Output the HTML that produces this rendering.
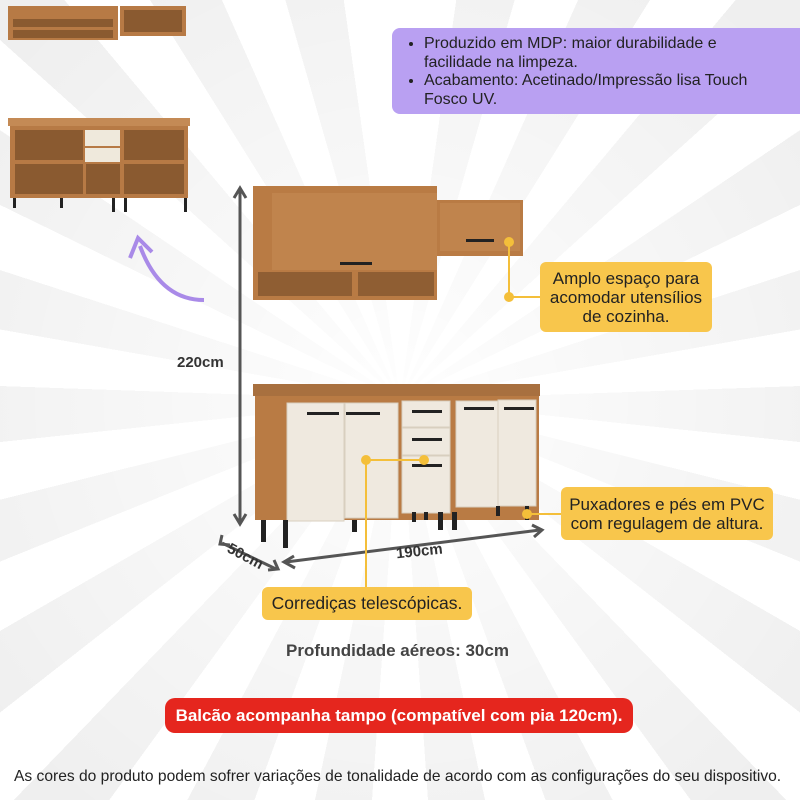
<!DOCTYPE html>
<html><head><meta charset="utf-8"><style>
body{margin:0;width:800px;height:800px;overflow:hidden;font-family:"Liberation Sans",sans-serif;}
.bg{position:absolute;left:0;top:0;width:800px;height:800px;background:repeating-conic-gradient(from 0deg at 400px 400px,#fff 0 8deg,#efefef 8deg 16deg);}
.fade{position:absolute;left:0;top:0;width:800px;height:800px;background:radial-gradient(circle at 400px 400px,rgba(255,255,255,.95) 0,rgba(255,255,255,.4) 300px,rgba(255,255,255,0) 520px);}
.purple{position:absolute;left:392px;top:28px;width:408px;height:86px;background:#b9a0f2;border-radius:8px 0 0 8px;box-sizing:border-box;padding:7px 50px 0 16px;font-size:16px;line-height:18.5px;color:#222;}
.purple ul{margin:0;padding-left:16px}
.y{position:absolute;background:#f8c64c;border-radius:6px;color:#222;font-size:17px;line-height:19px;text-align:center;display:flex;align-items:center;justify-content:center;white-space:nowrap;}
.red{position:absolute;left:165px;top:698px;width:468px;height:35px;background:#e5261e;border-radius:10px;color:#fff;font-weight:bold;font-size:17px;display:flex;align-items:center;justify-content:center;white-space:nowrap;}
.t{position:absolute;color:#333;white-space:nowrap;}
</style></head><body>
<div class="bg"></div><div class="fade"></div>
<div class="purple"><ul><li>Produzido em MDP: maior durabilidade e facilidade na limpeza.</li><li>Acabamento: Acetinado/Impressão lisa Touch Fosco UV.</li></ul></div>
<svg width="800" height="800" style="position:absolute;left:0;top:0">
<rect x="8" y="6" width="110" height="34" fill="#b77a45"/><rect x="120" y="6" width="66" height="30" fill="#b77a45"/>
<rect x="13" y="19" width="100" height="8" fill="#8a5a30"/><rect x="13" y="30" width="100" height="8" fill="#8a5a30"/><rect x="124" y="10" width="58" height="22" fill="#8a5a30"/>
<rect x="8" y="118" width="182" height="8" fill="#c48a55"/><rect x="10" y="126" width="178" height="72" fill="#b77a45"/>
<rect x="15" y="130" width="68" height="30" fill="#8a5a30"/><rect x="15" y="164" width="68" height="30" fill="#8a5a30"/>
<rect x="124" y="130" width="60" height="30" fill="#8a5a30"/><rect x="124" y="164" width="60" height="30" fill="#8a5a30"/>
<rect x="85" y="130" width="35" height="16" fill="#efe9dc"/><rect x="85" y="148" width="35" height="14" fill="#efe9dc"/><rect x="86" y="164" width="34" height="30" fill="#8a5a30"/>
<g fill="#222"><rect x="13" y="198" width="3" height="10"/><rect x="60" y="198" width="3" height="10"/><rect x="112" y="198" width="3" height="14"/><rect x="124" y="198" width="3" height="14"/><rect x="184" y="198" width="3" height="14"/></g>
<path d="M204 300 Q160 300 140 246" stroke="#a98ae8" stroke-width="4" fill="none"/><path d="M130 258 L138 238 L152 252" stroke="#a98ae8" stroke-width="4" fill="none"/>
<rect x="253" y="186" width="184" height="114" fill="#b97b44"/>
<rect x="272" y="193" width="165" height="77" fill="#c0844d"/>
<rect x="258" y="272" width="94" height="24" fill="#8f5e33"/><rect x="358" y="272" width="76" height="24" fill="#8f5e33"/>
<rect x="340" y="262" width="32" height="3" fill="#222"/>
<rect x="437" y="200" width="86" height="56" fill="#b97b44"/><rect x="440" y="203" width="80" height="48" fill="#c0844d"/>
<rect x="466" y="239" width="28" height="3" fill="#222"/>
<rect x="253" y="384" width="287" height="12" fill="#a8703f"/>
<rect x="255" y="396" width="284" height="124" fill="#b97b44"/>
<g fill="#efe9df" stroke="#d8cfbf"><rect x="287" y="403" width="57" height="118"/><rect x="345" y="403" width="53" height="115"/>
<rect x="402" y="401" width="48" height="26"/><rect x="402" y="428" width="48" height="27"/><rect x="402" y="456" width="48" height="57"/>
<rect x="456" y="401" width="42" height="106"/><rect x="498" y="400" width="38" height="106"/></g>
<g fill="#222"><rect x="307" y="412" width="32" height="3"/><rect x="346" y="412" width="34" height="3"/><rect x="412" y="410" width="30" height="3"/><rect x="412" y="438" width="30" height="3"/><rect x="412" y="464" width="30" height="3"/><rect x="464" y="407" width="30" height="3"/><rect x="504" y="407" width="30" height="3"/>
<rect x="261" y="520" width="5" height="22"/><rect x="283" y="520" width="5" height="28"/><rect x="352" y="520" width="5" height="12"/><rect x="412" y="512" width="4" height="10"/><rect x="424" y="512" width="4" height="8"/><rect x="438" y="512" width="5" height="18"/><rect x="452" y="512" width="5" height="18"/><rect x="496" y="506" width="4" height="10"/><rect x="525" y="506" width="4" height="14"/></g>
<g stroke="#555" stroke-width="3" fill="none"><line x1="240" y1="190" x2="240" y2="522"/><path d="M234 198 L240 188 L246 198 M234 514 L240 524 L246 514"/>
<line x1="222" y1="543" x2="276" y2="569"/><path d="M222 535 L220 544 L230 545 M268 570 L278 569 L274 560"/>
<line x1="286" y1="562" x2="540" y2="530"/><path d="M294 556 L284 562 L295 568 M532 525 L542 530 L534 537"/></g>
<g stroke="#f4bf3a" stroke-width="2" fill="#f4bf3a"><line x1="509" y1="242" x2="509" y2="297"/><line x1="509" y1="297" x2="540" y2="297"/><circle cx="509" cy="242" r="4"/><circle cx="509" cy="297" r="4"/>
<line x1="366" y1="460" x2="424" y2="460"/><line x1="366" y1="460" x2="366" y2="587"/><circle cx="366" cy="460" r="4"/><circle cx="424" cy="460" r="4"/>
<line x1="527" y1="514" x2="561" y2="514"/><circle cx="527" cy="514" r="4"/></g>
</svg>
<div class="t" style="left:177px;top:354px;font-weight:bold;font-size:15px">220cm</div>
<div class="t" style="left:226px;top:548px;font-weight:bold;font-size:15px;transform:rotate(28deg)">50cm</div>
<div class="t" style="left:396px;top:543px;font-weight:bold;font-size:15px;transform:rotate(-6deg)">190cm</div>
<div class="y" style="left:540px;top:262px;width:172px;height:70px">Amplo espaço para<br>acomodar utensílios<br>de cozinha.</div>
<div class="y" style="left:561px;top:487px;width:212px;height:53px">Puxadores e pés em PVC<br>com regulagem de altura.</div>
<div class="y" style="left:262px;top:587px;width:210px;height:33px;font-size:17.5px">Corrediças telescópicas.</div>
<div class="t" style="left:286px;top:641px;font-weight:bold;font-size:17px;color:#444">Profundidade aéreos: 30cm</div>
<div class="red">Balcão acompanha tampo (compatível com pia 120cm).</div>
<div class="t" style="left:14px;top:768px;font-size:15.6px;color:#222">As cores do produto podem sofrer variações de tonalidade de acordo com as configurações do seu dispositivo.</div>
</body></html>
